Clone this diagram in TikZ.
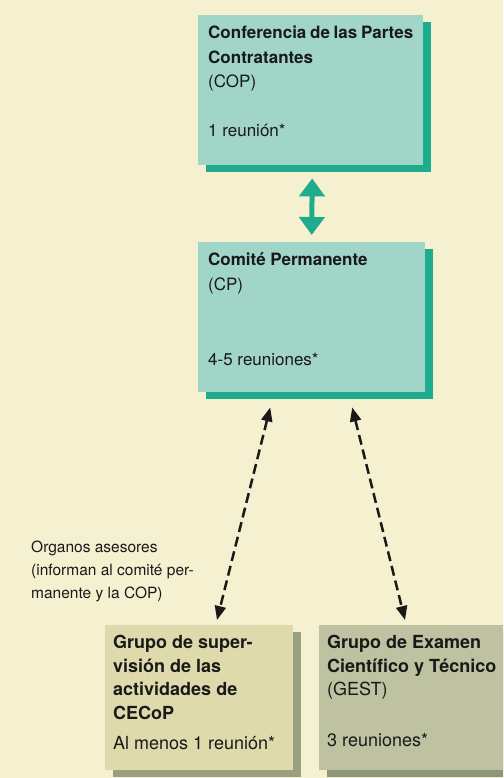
\documentclass[tikz,border=0pt]{standalone}
\usepackage{fontspec}
\setmainfont{TeX Gyre Heros}
\usepackage{xcolor}
\definecolor{crema}{RGB}{244,240,208}
\definecolor{tealbox}{RGB}{160,213,199}
\definecolor{tealdark}{RGB}{30,172,142}
\definecolor{khakibox}{RGB}{222,218,172}
\definecolor{khakidark}{RGB}{152,160,128}
\definecolor{salviabox}{RGB}{190,194,160}
\definecolor{salviadark}{RGB}{140,150,120}
\definecolor{tinta}{RGB}{25,25,25}
\usepackage{tikz}
\usetikzlibrary{shadows,arrows.meta,positioning}

\begin{document}
\begin{tikzpicture}[
  x=1pt, y=1pt,
  font=\fontsize{17}{24.5}\selectfont,
  organo/.style={
    rectangle, anchor=north west, align=left, text=tinta,
    inner xsep=10pt, inner ysep=11pt
  },
  tealorg/.style={organo, fill=tealbox,
    drop shadow={shadow xshift=8pt, shadow yshift=-7pt,
                 fill=tealdark, opacity=1}},
  grupo/.style={organo, inner xsep=8pt, inner ysep=10pt,
    font=\fontsize{18}{23.5}\selectfont},
  doble/.style={{Triangle[length=18pt,width=25pt]}-{Triangle[length=18pt,width=25pt]},
    line width=5pt, tealdark},
  asesor/.style={{Triangle[length=14pt,width=11pt]}-{Triangle[length=14pt,width=11pt]},
    line width=2.5pt, dash pattern=on 10pt off 5pt, tinta},
  nota/.style={anchor=north west, align=left, text=tinta,
    font=\fontsize{15.5}{23}\selectfont, inner sep=0pt}
]
\useasboundingbox (0,0) rectangle (503,-778);
\clip (0,0) rectangle (503,-778);
\fill[crema] (0,0) rectangle (503,-778);

\node[tealorg] (cop) at (198,-15)
  {\parbox[t][128pt][t]{205pt}{\textbf{Conferencia de las Partes}\\
   \textbf{Contratantes}\\ (COP)\\[24.5pt] 1 reuni\'on*}};
\node[tealorg] (cp) at (198,-242)
  {\parbox[t][128pt][t]{207pt}{\textbf{Comit\'e Permanente}\\
   (CP)\\[50.5pt] 4-5 reuniones*}};

\node[grupo, fill=khakibox,
  drop shadow={shadow xshift=8pt, shadow yshift=-7pt,
               fill=khakidark, opacity=1}] (cecop) at (105,-625)
  {\parbox[t][125pt][t]{172pt}{\textbf{Grupo de super-}\\
   \textbf{visi\'on de las}\\ \textbf{actividades de}\\
   \textbf{CECoP}\\[7pt] Al menos 1 reuni\'on*}};
\node[grupo, fill=salviabox,
  drop shadow={shadow xshift=8pt, shadow yshift=-7pt,
               fill=salviadark, opacity=1}] (gest) at (319,-625)
  {\parbox[t][125pt][t]{200pt}{\textbf{Grupo de Examen}\\
   \textbf{Cient\'ifico y T\'ecnico}\\ (GEST)\\[27pt] 3 reuniones*}};

\node[nota] (nota) at (31,-541)
  {Organos asesores\\ (informan al comit\'e per-\\ manente y la COP)};

\draw[doble] ([xshift=1.5pt,yshift=-13pt]cop.south)
  -- ([yshift=7pt]cp.north);

% organos asesores
\draw[asesor] ([xshift=-41.5pt,yshift=-15pt]cp.south)
  -- ([xshift=112pt,yshift=5pt]cecop.north west);
\draw[asesor] ([xshift=40.5pt,yshift=-15pt]cp.south)
  -- ([xshift=86pt,yshift=5pt]gest.north west);
\end{tikzpicture}
\end{document}
